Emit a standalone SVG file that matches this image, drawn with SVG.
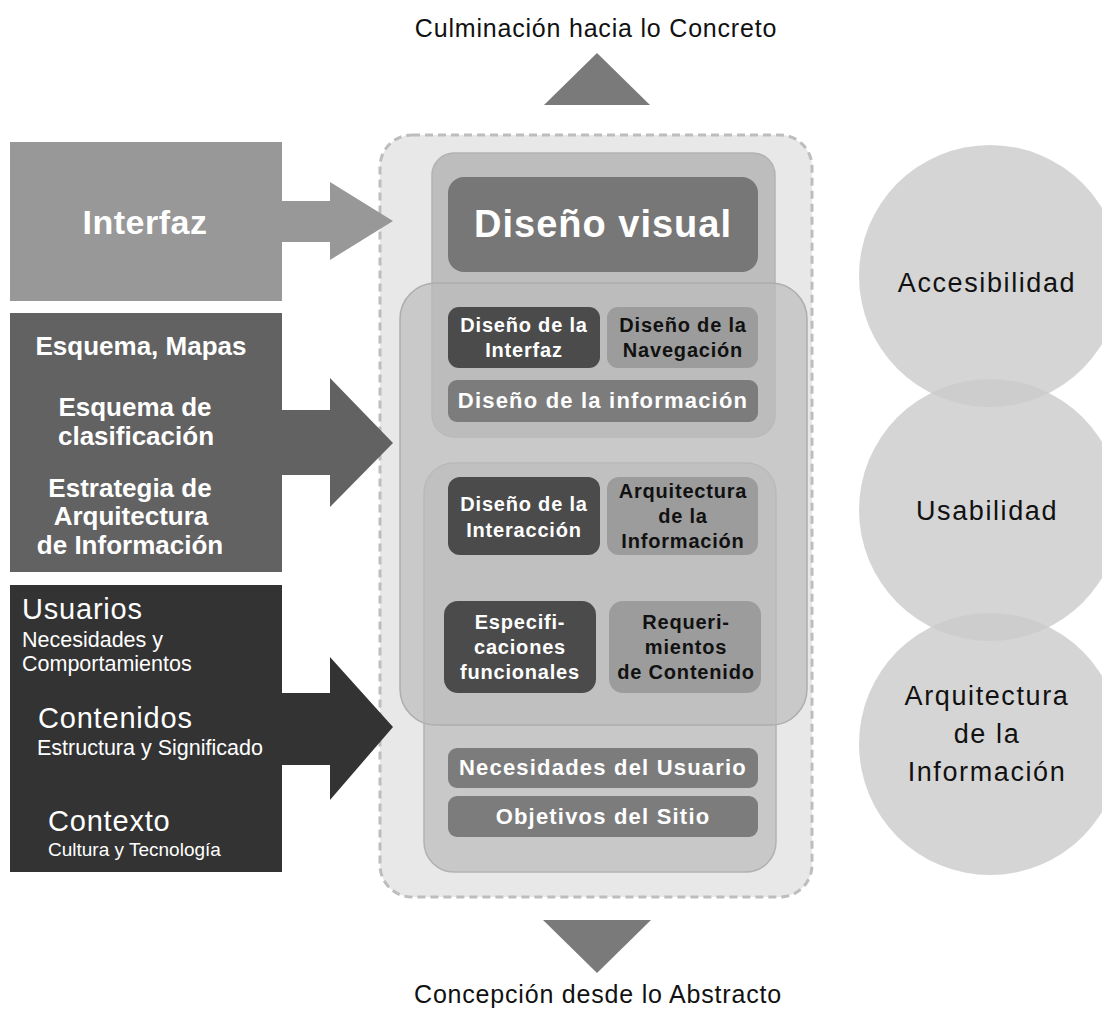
<svg xmlns="http://www.w3.org/2000/svg" width="1102" height="1015" viewBox="0 0 1102 1015">
<style>
text { font-family: "Liberation Sans", Arial, sans-serif; }
.cap { fill:#111; font-size:25px; letter-spacing:0.8px; text-anchor:middle; }
.lb { fill:#fff; font-weight:bold; font-size:26px; text-anchor:middle; }
.lr { fill:#fff; }
.big { font-size:29px; letter-spacing:0.8px; }
.sub { font-size:21.5px; }
.wt { fill:#fff; font-weight:bold; font-size:20px; letter-spacing:0.8px; text-anchor:middle; }
.bt { fill:#111; font-weight:bold; font-size:20px; letter-spacing:0.8px; text-anchor:middle; }
.bar { fill:#fff; font-weight:bold; font-size:22px; letter-spacing:1.2px; text-anchor:middle; }
.circ { fill:#cbcbcb; fill-opacity:0.8; }
.ct { fill:#111; font-size:27px; letter-spacing:1.6px; text-anchor:middle; }
.dk { fill:#4b4b4b; }
.lt { fill:#9c9c9c; }
.md { fill:#7c7c7c; }
.tri { fill:#7a7a7a; }
</style>

<!-- right circles -->
<g id="circle-accesibilidad">
  <circle class="circ" cx="990" cy="276" r="131"/>
  <text class="ct" x="987" y="292">Accesibilidad</text>
</g>
<g id="circle-usabilidad">
  <circle class="circ" cx="990" cy="510" r="131"/>
  <text class="ct" x="987" y="520">Usabilidad</text>
</g>
<g id="circle-arquitectura">
  <circle class="circ" cx="990" cy="744" r="131"/>
  <text class="ct" x="987" y="705">Arquitectura</text>
  <text class="ct" x="987" y="743">de la</text>
  <text class="ct" x="987" y="781">Información</text>
</g>

<!-- central container -->
<g id="container">
  <rect x="380" y="135" width="432" height="762" rx="32" fill="#e8e8e8" stroke="#bdbdbd" stroke-width="3" stroke-dasharray="8 5"/>
</g>
<g id="section-top">
  <rect x="432" y="153" width="343" height="284" rx="22" fill="#bdbdbd" stroke="#b2b2b2" stroke-width="1.5"/>
</g>
<g id="section-bottom">
  <rect x="424" y="463" width="352" height="409" rx="30" fill="#c8c8c8" stroke="#b2b2b2" stroke-width="1.5"/>
</g>
<g id="section-middle">
  <rect x="400" y="283" width="407" height="442" rx="36" fill="#bcbcbc" fill-opacity="0.7" stroke="#adadad" stroke-width="1.5"/>
</g>

<g id="diseno-visual">
  <rect x="448" y="177" width="310" height="95" rx="16" fill="#777777"/>
  <text x="603" y="237" fill="#fff" font-weight="bold" font-size="38" letter-spacing="1" text-anchor="middle">Diseño visual</text>
</g>
<g id="diseno-interfaz">
  <rect class="dk" x="448" y="307" width="152" height="61" rx="11"/>
  <text class="wt" x="524" y="332">Diseño de la</text>
  <text class="wt" x="524" y="357">Interfaz</text>
</g>
<g id="diseno-navegacion">
  <rect class="lt" x="607" y="307" width="151" height="61" rx="11"/>
  <text class="bt" x="683" y="332">Diseño de la</text>
  <text class="bt" x="683" y="357">Navegación</text>
</g>
<g id="diseno-informacion">
  <rect class="md" x="448" y="380" width="310" height="42" rx="9"/>
  <text class="bar" x="603" y="408">Diseño de la información</text>
</g>
<g id="diseno-interaccion">
  <rect class="dk" x="448" y="477" width="152" height="78" rx="12"/>
  <text class="wt" x="524" y="511">Diseño de la</text>
  <text class="wt" x="524" y="537">Interacción</text>
</g>
<g id="arquitectura-informacion">
  <rect class="lt" x="607" y="477" width="151" height="78" rx="12"/>
  <text class="bt" x="683" y="498">Arquitectura</text>
  <text class="bt" x="683" y="523">de la</text>
  <text class="bt" x="683" y="548">Información</text>
</g>
<g id="especificaciones">
  <rect class="dk" x="444" y="601" width="152" height="92" rx="14"/>
  <text class="wt" x="520" y="629">Especifi-</text>
  <text class="wt" x="520" y="654">caciones</text>
  <text class="wt" x="520" y="679">funcionales</text>
</g>
<g id="requerimientos">
  <rect class="lt" x="609" y="601" width="152" height="92" rx="14"/>
  <text class="bt" x="686" y="629">Requeri-</text>
  <text class="bt" x="686" y="654">mientos</text>
  <text class="bt" x="686" y="679">de Contenido</text>
</g>
<g id="necesidades-usuario">
  <rect class="md" x="448" y="748" width="310" height="40" rx="9"/>
  <text class="bar" x="603" y="775">Necesidades del Usuario</text>
</g>
<g id="objetivos-sitio">
  <rect class="md" x="448" y="796" width="310" height="41" rx="9"/>
  <text class="bar" x="603" y="824">Objetivos del Sitio</text>
</g>

<!-- left boxes -->
<g id="box-interfaz">
  <rect x="10" y="142" width="272" height="159" fill="#989898"/>
  <text x="145" y="234" fill="#fff" font-weight="bold" font-size="34" letter-spacing="0.5" text-anchor="middle">Interfaz</text>
</g>
<g id="box-esquema">
  <rect x="10" y="313" width="272" height="259" fill="#626262"/>
  <text class="lb" x="141" y="355">Esquema, Mapas</text>
  <text class="lb" x="135" y="416">Esquema de</text>
  <text class="lb" x="136" y="445">clasificación</text>
  <text class="lb" x="130" y="497">Estrategia de</text>
  <text class="lb" x="131" y="525">Arquitectura</text>
  <text class="lb" x="130" y="554">de Información</text>
</g>
<g id="box-usuarios">
  <rect x="10" y="585" width="272" height="287" fill="#333333"/>
  <text class="lr big" x="22" y="619">Usuarios</text>
  <text class="lr sub" x="22" y="647">Necesidades y</text>
  <text class="lr sub" x="22" y="671">Comportamientos</text>
  <text class="lr big" x="38" y="728">Contenidos</text>
  <text class="lr sub" x="37" y="755">Estructura y Significado</text>
  <text class="lr big" x="48" y="831">Contexto</text>
  <text class="lr" x="48" y="856" font-size="19">Cultura y Tecnología</text>
</g>

<!-- connectors -->
<g id="connectors">
  <polygon points="281,201 330,201 330,182 393,221 330,260 330,242 281,242" fill="#989898"/>
  <polygon points="281,410 330,410 330,378 393,443 330,507 330,475 281,475" fill="#626262"/>
  <polygon points="281,693 330,693 330,657 393,727 330,800 330,765 281,765" fill="#333333"/>
  <polygon class="tri" points="597,53 650,105 544,105"/>
  <polygon class="tri" points="543,920 651,920 597,973"/>
</g>

<g id="caption-top">
  <text class="cap" x="596" y="37">Culminación hacia lo Concreto</text>
</g>
<g id="caption-bottom">
  <text class="cap" x="598" y="1003">Concepción desde lo Abstracto</text>
</g>
</svg>
